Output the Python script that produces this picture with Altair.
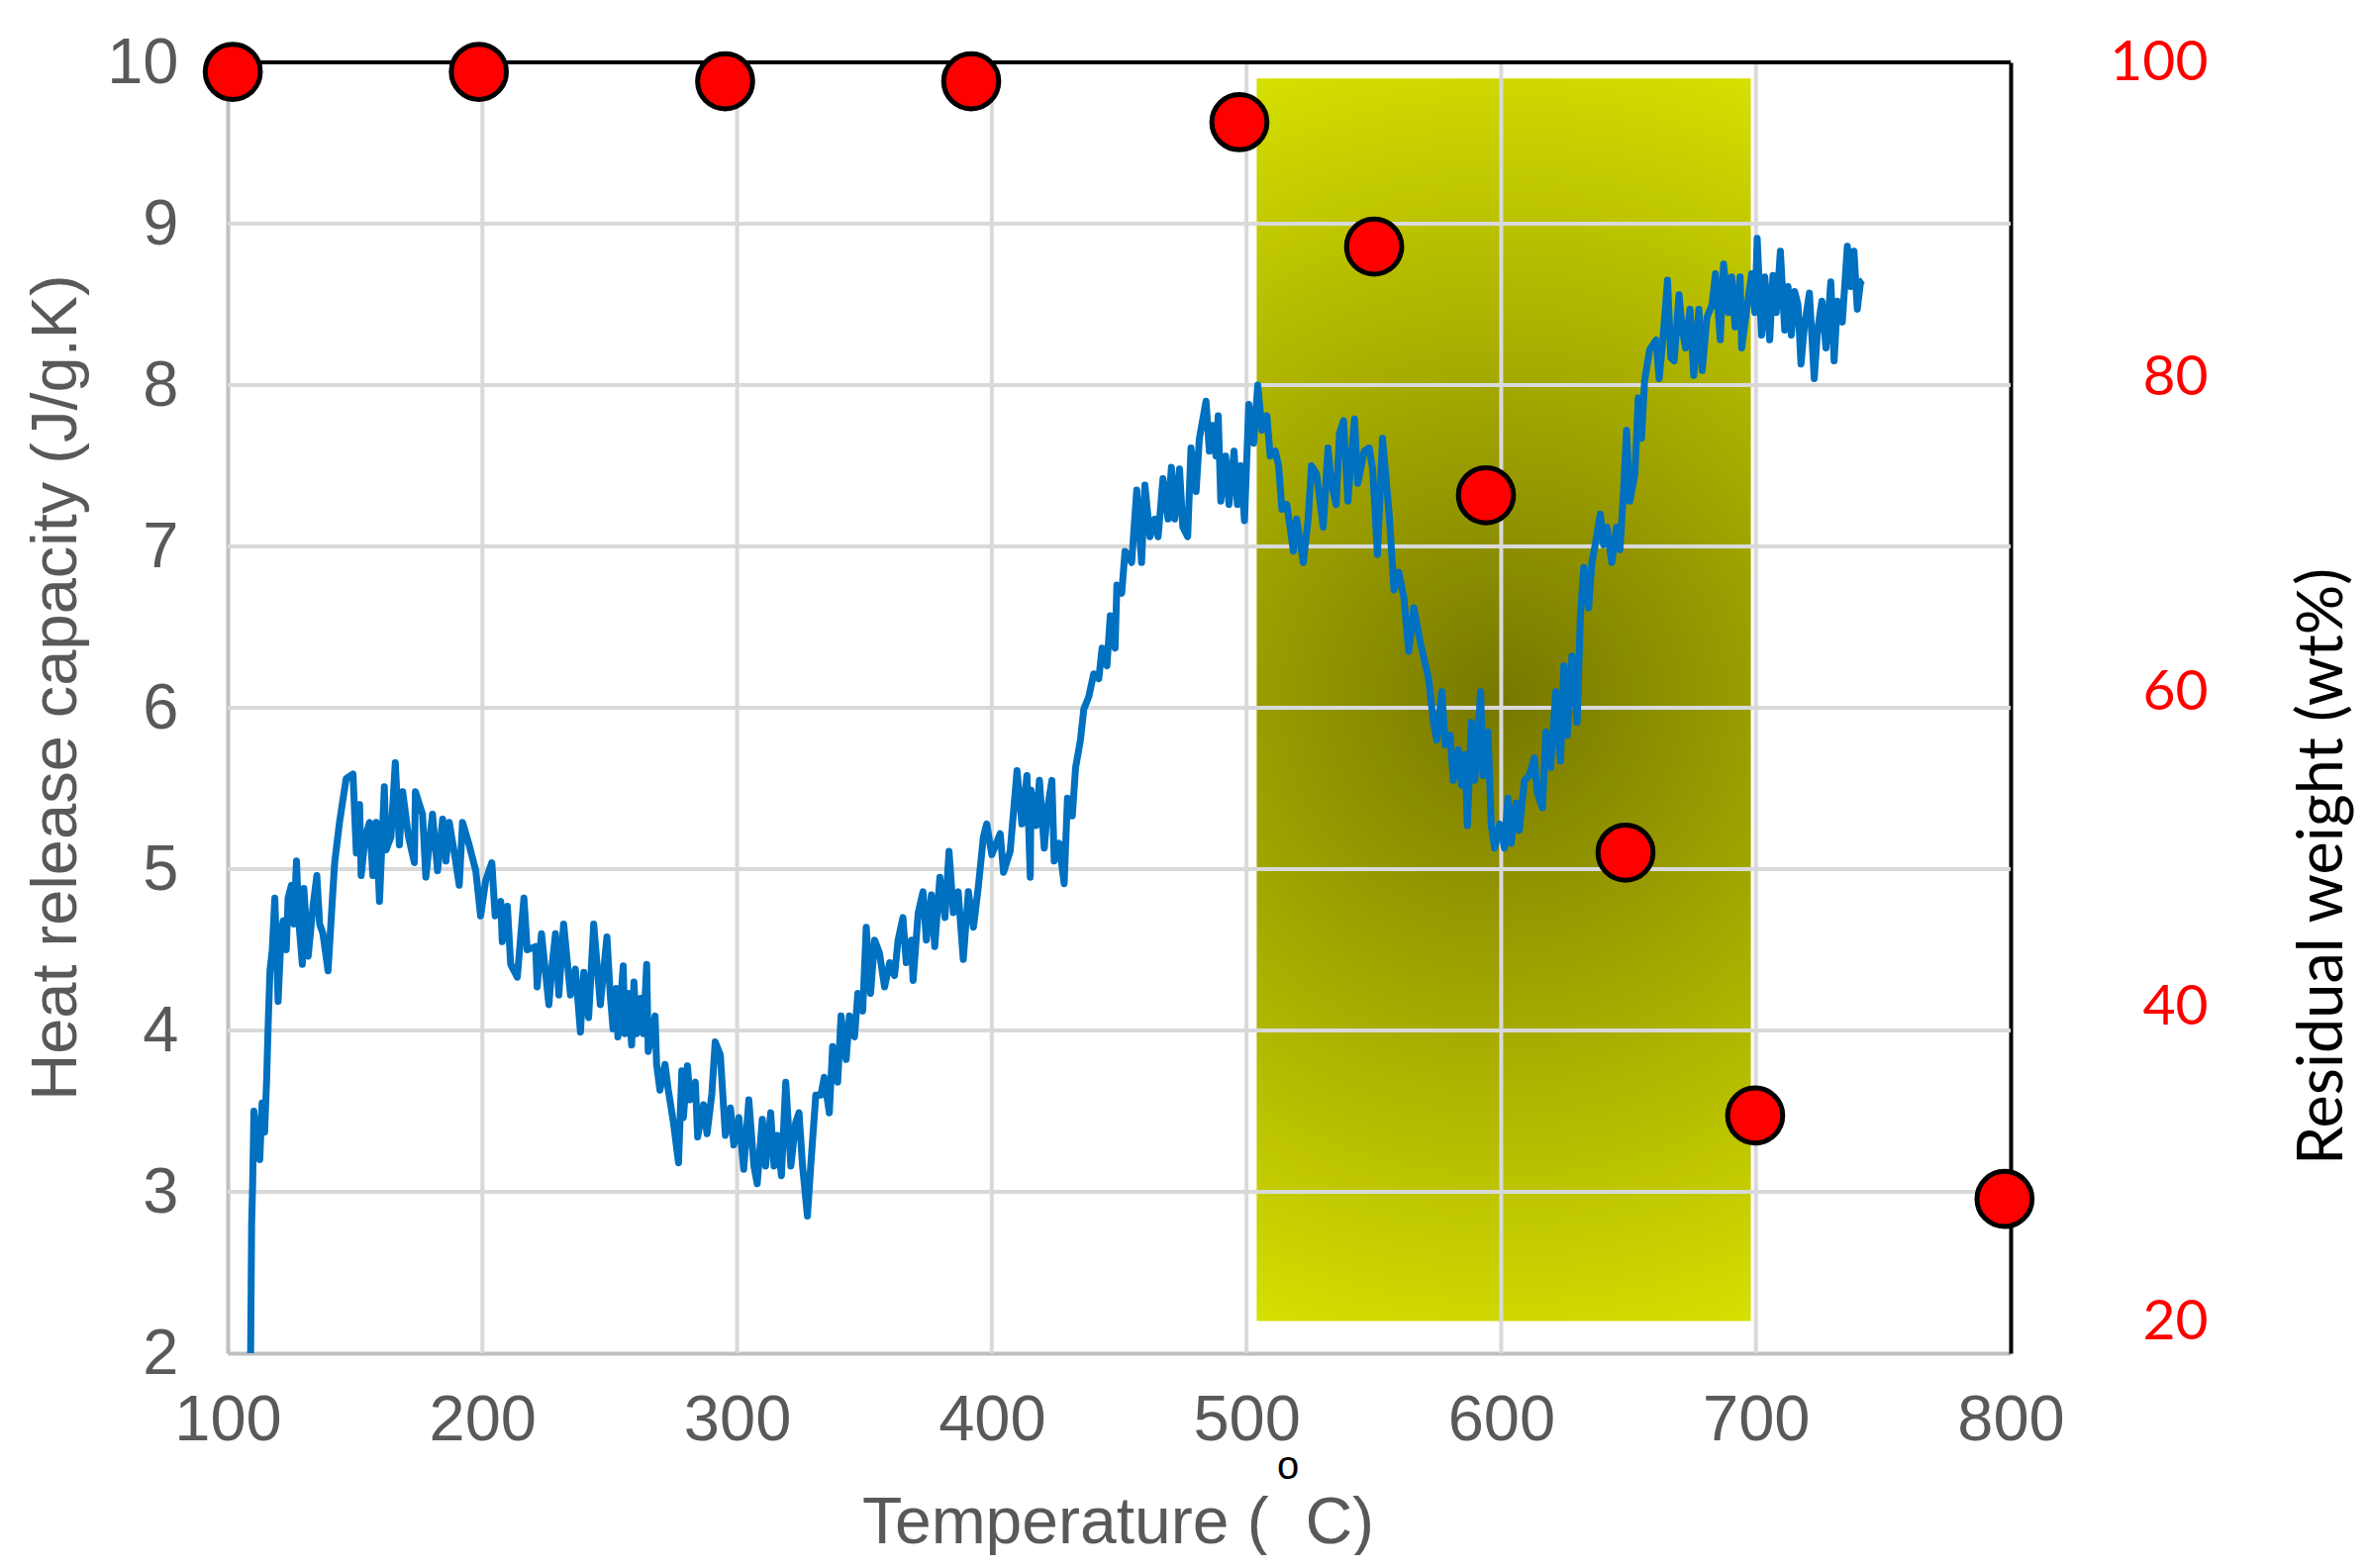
import altair as alt
import pandas as pd

# ---------------- data ----------------
temp_c = [
    109.0, 109.4, 109.8, 110.3, 111.5, 112.6, 113.5, 114.5, 115.3, 115.9, 116.6, 117.5, 118.5, 119.8,
    121.0, 121.8, 123.0, 123.7, 125.0, 126.0, 127.0, 128.0, 129.3, 129.9, 131.6, 133.5, 135.0, 136.1,
    137.4, 139.4, 140.7, 142.0, 143.9, 146.5, 149.2, 150.5, 151.8, 152.4, 154.0, 155.7, 157.0, 158.3,
    159.6, 161.5, 162.2, 164.1, 165.8, 167.4, 168.7, 171.0, 173.3, 173.7, 176.5, 177.8, 180.4, 182.4,
    184.4, 185.7, 187.0, 189.0, 190.9, 192.2, 194.8, 197.4, 199.3, 201.3, 203.7, 205.0, 207.2, 207.8,
    209.8, 211.1, 213.7, 216.3, 217.6, 220.9, 221.5, 223.2, 226.1, 227.4, 228.7, 230.0, 231.9, 234.6,
    236.5, 238.5, 239.8, 241.7, 243.7, 246.3, 248.9, 250.2,
    251.3, 252.6, 253.2, 255.3, 255.9, 257.2, 258.6, 259.5, 260.5, 262.1, 263.2, 264.5, 265.1, 267.8,
    268.4, 269.7, 271.7, 273.0, 275.0, 277.0, 278.3, 278.9, 280.5, 281.6, 283.6, 284.5, 286.8, 288.2,
    290.1, 291.4, 293.4, 295.4, 297.4, 298.7, 300.7, 302.6, 304.6, 306.6, 307.9, 309.9, 311.2, 313.2,
    314.5, 315.8, 317.4, 319.1, 321.1, 323.0, 324.3, 325.7, 327.6, 328.9, 330.9, 332.9, 334.2, 336.2,
    337.5, 339.5, 340.8, 342.8, 344.1, 346.1, 347.4, 349.3, 350.7, 352.4, 354.0, 355.9, 357.9, 359.9,
    361.8, 363.2, 365.1, 366.4, 368.4, 369.1, 371.1, 373.0, 374.3, 376.3, 377.6, 379.6, 381.6, 383.2,
    384.9, 386.8, 388.8, 390.8, 392.8, 394.7, 396.7, 398.0, 400.0, 403.3, 404.6, 407.2, 409.9, 411.8,
    413.8, 415.1,
    415.4, 417.4, 418.7, 420.6, 421.9, 423.6, 424.5, 426.4, 428.4, 429.7, 431.6, 432.9, 434.8, 436.1,
    438.1, 440.0, 442.0, 443.3, 445.2, 446.5, 448.4, 449.1, 451.0, 452.3, 454.9, 456.9, 458.8, 460.1,
    462.1, 464.0, 465.3, 467.2, 469.2, 470.5, 471.8, 473.7, 475.0, 476.9, 478.2, 480.2, 481.5, 484.1,
    485.4, 486.7, 488.0, 488.9, 489.9, 491.8, 493.1, 495.1, 496.4, 497.7, 499.2, 500.9, 502.8, 504.4,
    506.1, 508.0, 509.3, 511.3, 512.6, 513.9, 515.8, 517.1, 518.4, 519.7, 522.3, 524.2, 525.5, 527.5,
    530.1, 532.0, 533.3, 535.2, 536.5, 538.1, 539.8, 542.4, 543.7, 546.2, 548.2, 549.5, 551.4, 553.4,
    556.0, 557.9, 559.8, 561.8, 563.7, 565.7, 568.3, 569.9,
    571.5, 573.4, 574.7, 576.7, 578.0, 579.9, 581.2, 583.2, 584.5, 585.8, 586.7, 588.3, 589.6, 590.9,
    591.9, 592.9, 594.8, 596.1, 597.4, 599.4, 601.3, 602.6, 603.9, 605.8, 607.1, 609.1, 611.0, 613.0,
    614.2, 616.2, 617.5, 619.4, 621.4, 623.3, 624.6, 625.9, 627.8, 629.8, 631.1, 632.4, 634.3, 635.6,
    636.9, 638.9, 640.2, 641.5, 643.4, 645.3, 646.6, 647.9, 649.2, 650.5, 652.5, 653.8, 655.1, 656.3,
    658.3,
    660.8, 662.0, 663.3, 665.3, 666.6, 667.9, 669.8, 671.1, 672.4, 674.1, 675.6, 677.6, 678.9, 680.8,
    682.8, 684.1, 686.0, 687.3, 689.2, 690.5, 691.8, 693.8, 694.4, 696.4, 698.3, 699.6, 700.5, 702.2,
    703.5, 705.4, 706.7, 708.0, 709.6, 711.3, 712.6, 713.9, 715.2, 716.5, 717.7, 719.0, 721.0, 722.9,
    724.2, 725.9, 727.5, 729.4, 730.7, 732.0, 733.9, 735.9, 737.2, 738.5, 739.8, 741.1, 742.0,
]
hrc = [
    2.00, 2.80, 3.05, 3.50, 3.30, 3.20, 3.55, 3.37, 3.70, 4.04, 4.37, 4.50, 4.82, 4.18,
    4.60, 4.68, 4.50, 4.82, 4.90, 4.66, 5.05, 4.66, 4.41, 4.88, 4.46, 4.77, 4.96, 4.66,
    4.60, 4.37, 4.71, 5.04, 5.29, 5.56, 5.59, 5.10, 5.40, 4.96, 5.20, 5.29, 4.96, 5.29,
    4.80, 5.51, 5.12, 5.20, 5.66, 5.15, 5.48, 5.20, 5.04, 5.48, 5.34, 4.95, 5.34, 4.99,
    5.31, 5.05, 5.29, 5.10, 4.90, 5.29, 5.15, 4.99, 4.71, 4.93, 5.04, 4.71, 4.80, 4.55,
    4.77, 4.41, 4.33, 4.82, 4.50, 4.52, 4.27, 4.60, 4.16, 4.41, 4.60, 4.22, 4.66, 4.22,
    4.38, 3.99, 4.36, 4.08, 4.66, 4.16, 4.58, 4.22,
    4.01, 4.26, 3.96, 4.40, 3.98, 4.23, 3.91, 4.30, 3.98, 4.20, 3.98, 4.41, 3.87,
    4.09, 3.79, 3.63, 3.79, 3.63, 3.43, 3.18, 3.75, 3.46, 3.78, 3.57, 3.68, 3.34, 3.54,
    3.36, 3.61, 3.93, 3.85, 3.35, 3.52, 3.29, 3.46, 3.14, 3.57, 3.16, 3.05, 3.45, 3.16,
    3.49, 3.16, 3.35, 3.10, 3.68, 3.16, 3.43, 3.49, 3.16, 2.85, 3.16, 3.60, 3.60, 3.71,
    3.49, 3.90, 3.68, 4.09, 3.82, 4.09, 3.96, 4.23, 4.12, 4.64, 4.23, 4.56, 4.48, 4.27,
    4.42, 4.34, 4.56, 4.70, 4.42, 4.56, 4.31, 4.73, 4.86, 4.56, 4.84, 4.52, 4.95, 4.70,
    5.11, 4.73, 4.86, 4.44, 4.86, 4.64, 4.89, 5.20, 5.28, 5.09, 5.22, 4.98, 5.11, 5.61,
    5.28, 5.58, 4.95,
    5.49, 5.27, 5.55, 5.13, 5.38, 5.55, 5.05, 5.16, 4.91, 5.44, 5.33, 5.63, 5.80, 5.99,
    6.07, 6.21, 6.18, 6.37, 6.26, 6.57, 6.37, 6.76, 6.71, 6.97, 6.90, 7.35, 6.90, 7.38,
    7.06, 7.17, 7.06, 7.42, 7.17, 7.49, 7.17, 7.48, 7.12, 7.06, 7.61, 7.34, 7.67, 7.90,
    7.59, 7.75, 7.56, 7.81, 7.28, 7.56, 7.26, 7.59, 7.26, 7.50, 7.16, 7.88, 7.64, 8.00,
    7.72, 7.81, 7.56, 7.59, 7.50, 7.23, 7.26, 7.12, 6.97, 7.17, 6.90, 7.17, 7.50, 7.45,
    7.12, 7.61, 7.39, 7.26, 7.70, 7.78, 7.28, 7.79, 7.39, 7.59, 7.61, 7.48, 6.95, 7.67,
    7.20, 6.73, 6.84, 6.68, 6.35, 6.62, 6.40, 6.29,
    6.18, 5.91, 5.80, 6.10, 5.77, 5.83, 5.55, 5.74, 5.52, 5.71, 5.27, 5.91, 5.55, 5.83,
    6.10, 5.58, 5.85, 5.27, 5.13, 5.28, 5.13, 5.44, 5.16, 5.41, 5.24, 5.55, 5.58, 5.69,
    5.47, 5.38, 5.85, 5.63, 6.10, 5.67, 6.26, 5.83, 6.32, 5.91, 6.57, 6.87, 6.62, 6.90,
    7.01, 7.20, 7.01, 7.12, 6.90, 7.12, 6.98, 7.31, 7.72, 7.28, 7.45, 7.92, 7.67, 8.03,
    8.22,
    8.28, 8.04, 8.25, 8.65, 8.17, 8.15, 8.56, 8.34, 8.23, 8.47, 8.06, 8.47, 8.09, 8.42,
    8.50, 8.69, 8.28, 8.75, 8.45, 8.67, 8.36, 8.67, 8.23, 8.47, 8.69, 8.45, 8.91, 8.31,
    8.67, 8.28, 8.68, 8.45, 8.83, 8.34, 8.61, 8.31, 8.58, 8.50, 8.13, 8.36, 8.57, 8.04,
    8.34, 8.52, 8.23, 8.64, 8.15, 8.52, 8.39, 8.86, 8.61, 8.83, 8.47, 8.64, 8.65,
]

tga_temp = [102, 198.6, 295.3, 391.9, 497.2, 550.1, 594.0, 648.8, 699.7, 797.6]
tga_wt = [99.4, 99.4, 98.8, 98.8, 96.2, 88.3, 72.5, 49.8, 33.1, 27.8]

zone_t = [504, 698]
zone_hrc = [2.2, 9.9]

x_ticks = [100, 200, 300, 400, 500, 600, 700, 800]
left_ticks = [2, 3, 4, 5, 6, 7, 8, 9, 10]
right_ticks = [20, 40, 60, 80, 100]
x_grid = [200, 300, 400, 500, 600, 700]
y_grid = [3, 4, 5, 6, 7, 8, 9]
top_line = [10]

# ---------------- tables ----------------
line_df = pd.DataFrame({"t": temp_c, "hrc": hrc})
pts_df = pd.DataFrame({"t": tga_temp, "wt": tga_wt})
zone_df = pd.DataFrame({"t0": [zone_t[0]], "t1": [zone_t[1]], "h0": [zone_hrc[0]], "h1": [zone_hrc[1]]})
xg_df = pd.DataFrame({"gx": x_grid})
yg_df = pd.DataFrame({"gy": y_grid})
top_df = pd.DataFrame({"ty": top_line})
deg_df = pd.DataFrame({"s": ["o"]})

W, H = 1801, 1304
GRAY = "#595959"
FONT = "Liberation Sans"

xscale = alt.Scale(domain=[100, 800], nice=False, zero=False)
ylscale = alt.Scale(domain=[2, 10], nice=False, zero=False)
yrscale = alt.Scale(domain=[18, 100], nice=False, zero=False)

x_axis = alt.Axis(
    values=x_ticks, orient="bottom", title="Temperature (\u00a0\u00a0C)", grid=False, ticks=False, tickSize=0,
    domainColor="#bfbfbf", domainWidth=4, format="d",
    labelFont=FONT, labelFontSize=65, labelColor=GRAY, labelPadding=36,
    labelFlush=False, labelOverlap=False,
    titleFont=FONT, titleFontSize=66, titleFontWeight="normal", titleColor=GRAY,
    titleBaseline="alphabetic", titleAlign="center", titleX=899, titleY=191,
)
yl_axis = alt.Axis(
    values=left_ticks, orient="left", title="Heat release capacity (J/g.K)", grid=False, ticks=False, tickSize=0,
    domainColor="#bfbfbf", domainWidth=4, format="d",
    labelFont=FONT, labelFontSize=65, labelColor=GRAY, labelPadding=50,
    labelFlush=False, labelOverlap=False,
    titleFont=FONT, titleFontSize=65, titleFontWeight="normal", titleColor=GRAY,
    titleAngle=270, titleBaseline="middle", titleAlign="center", titleX=-174, titleY=631,
)
yr_axis = alt.Axis(
    values=right_ticks, orient="right", title="Residual weight (wt%)", grid=False, ticks=False, tickSize=0,
    domainColor="black", domainWidth=4, format="d",
    labelFont="Lato", labelFontSize=57, labelColor="#ff0000", labelAlign="right", labelPadding=199,
    labelFlush=False, labelOverlap=False,
    titleFont="Lato", titleFontSize=63, titleFontWeight="normal", titleColor="black",
    titleAngle=270, titleBaseline="middle", titleAlign="center", titleX=315, titleY=812,
)

zone = alt.Chart(zone_df).mark_rect(
    fill={
        "gradient": "radial",
        "x1": 0.5, "y1": 0.5, "r1": 0,
        "x2": 0.5, "y2": 0.5, "r2": 0.54,
        "stops": [
            {"offset": 0, "color": "#777700"},
            {"offset": 1, "color": "#d6e000"},
        ],
    },
    strokeWidth=0,
).encode(
    x=alt.X("t0:Q", scale=xscale, axis=x_axis),
    x2="t1:Q",
    y=alt.Y("h0:Q", scale=ylscale, axis=None),
    y2="h1:Q",
)

xgrid = alt.Chart(xg_df).mark_rule(color="#d9d9d9", strokeWidth=4).encode(
    x=alt.X("gx:Q", scale=xscale, axis=x_axis)
)
ygrid = alt.Chart(yg_df).mark_rule(color="#d9d9d9", strokeWidth=4).encode(
    y=alt.Y("gy:Q", scale=ylscale, axis=None)
)
topline = alt.Chart(top_df).mark_rule(color="black", strokeWidth=4).encode(
    y=alt.Y("ty:Q", scale=ylscale, axis=None)
)

line = alt.Chart(line_df).mark_line(color="#0070c0", strokeWidth=7, strokeJoin="round").encode(
    x=alt.X("t:Q", scale=xscale, axis=x_axis),
    y=alt.Y("hrc:Q", scale=ylscale, axis=yl_axis),
)

pts = alt.Chart(pts_df).mark_point(
    shape="circle", filled=True, fill="#ff0000", stroke="black", strokeWidth=5, size=3100, opacity=1
).encode(
    x=alt.X("t:Q", scale=xscale, axis=x_axis),
    y=alt.Y("wt:Q", scale=yrscale, axis=yr_axis),
)

deg = alt.Chart(deg_df).mark_text(
    font=FONT, fontSize=40, color="black", baseline="alphabetic", align="center"
).encode(
    text="s:N",
    x=alt.value(1071),
    y=alt.value(1431),
)

chart = alt.layer(zone, xgrid, ygrid, topline, line, pts, deg).resolve_scale(
    y="independent"
).properties(
    width=W,
    height=H,
    autosize=alt.AutoSizeParams(type="none"),
    padding={"left": 222, "top": 55, "right": 354, "bottom": 204},
    background="white",
).configure_view(strokeWidth=0)

chart.save("out.html", embed_options={"renderer": "svg", "actions": False})
